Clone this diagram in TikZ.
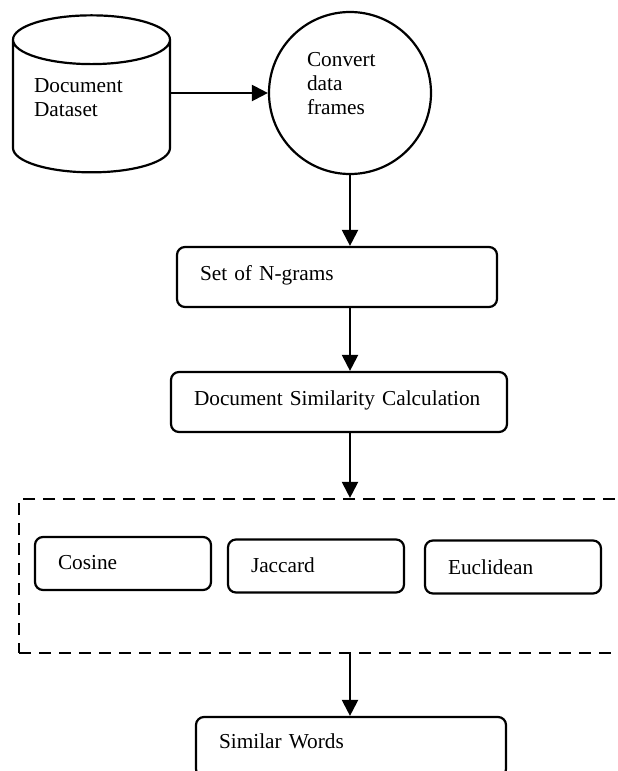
\documentclass[tikz,border=0pt]{standalone}
\usepackage{fontspec}
\setmainfont{Liberation Serif}
\usetikzlibrary{shapes.geometric, arrows.meta}

\begin{document}
\begin{tikzpicture}[
		x = 0.5pt, y = -0.5pt,
		line width = 1.1pt,
		every node/.style = {draw, font = \fontsize{10.65}{12}\selectfont, align = left},
		box/.style = {rectangle, rounded corners = 4pt, inner xsep = 11.5pt, text height = 8pt},
		flow/.style = {-{Triangle[length = 8pt, width = 8pt]}},
		group/.style = {dash pattern = on 6pt off 4pt, inner sep = 0pt}
		]
		\clip (0,0) rectangle (617,771);

		% source and conversion
		\node [cylinder, shape border rotate = 90, aspect = 0.38, minimum width = 78.5pt,
			minimum height = 78.5pt, text width = 57.5pt, text depth = 26pt] (Data) at (91.5,111.5) {Document\\Dataset};
		\node [circle, minimum size = 81pt, inner sep = 0pt, text width = 43pt, text depth = 33.5pt]
			(Conv) at (350,93) {Convert\\data\\frames};

		% processing steps
		\node [box, text width = 137pt, minimum height = 30pt, text depth = 5pt] (Set) at (337,277) {Set of N-grams};
		\node [box, text width = 145pt, minimum height = 30pt, text depth = 5pt] (Calc) at (339,402) {Document Similarity Calculation};

		% measures
		\node [group, minimum width = 320.5pt, minimum height = 77pt] (Group) at (339.5,576) {};
		\node [box, text width = 65pt, minimum height = 26.5pt, text depth = 2.5pt] (Cos) at (123,563.5) {Cosine};
		\node [box, text width = 65pt, minimum height = 26.5pt, text depth = 2pt] (Jac) at (316,566) {Jaccard};
		\node [box, text width = 65pt, minimum height = 26.5pt, text depth = 1pt] (Euc) at (513,567) {Euclidean};

		\node [box, text width = 132pt, minimum height = 30pt, text depth = 7pt] (Sim) at (351,747) {Similar Words};

		% arrows
		\draw [flow] (Data.east |- Conv.west) -- (Conv.west);
		\draw [flow] (Conv.south) -- (Conv.south |- Set.north);
		\draw [flow] (Set.south -| Conv.south) -- (Calc.north -| Conv.south);
		\draw [flow] (Calc.south -| Conv.south) -- (Group.north -| Conv.south);
		\draw [flow] (Group.south -| Conv.south) -- (Sim.north -| Conv.south);
	\end{tikzpicture}
\end{document}
